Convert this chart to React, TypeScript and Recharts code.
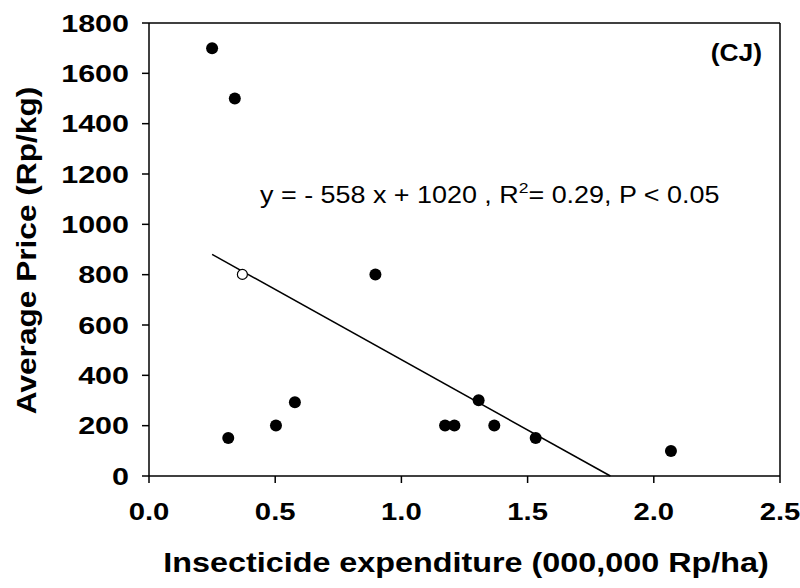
import React from "react";
import {
  ScatterChart,
  Scatter,
  XAxis,
  YAxis,
  ReferenceLine,
  ReferenceDot,
} from "recharts";

const filledX = [0.25, 0.34, 0.314, 0.503, 0.578, 0.897, 1.173, 1.21, 1.306, 1.368, 1.532, 2.068];
const filledY = [1700, 1500, 151, 201, 293, 801, 201, 201, 301, 201, 151, 99];
const openX = [0.37];
const openY = [801];
const xTicks = [0, 0.5, 1.0, 1.5, 2.0, 2.5];
const yTicks = [0, 200, 400, 600, 800, 1000, 1200, 1400, 1600, 1800];
const slope = -558;
const intercept = 1020;
const fitStartX = 0.25;
const equationText = "y = - 558 x + 1020 , R";
const equationTail = "= 0.29, P < 0.05";
const panelLabel = "(CJ)";
const xLabel = "Insecticide expenditure (000,000 Rp/ha)";
const yLabel = "Average Price (Rp/kg)";

const filled = filledX.map((x, i) => ({ x, y: filledY[i] }));
const open = openX.map((x, i) => ({ x, y: openY[i] }));
const fitEndX = -intercept / slope;
const fitSegment = [
  { x: fitStartX, y: slope * fitStartX + intercept },
  { x: fitEndX, y: 0 },
];

const FONT = "'Liberation Sans', Arial, sans-serif";

const FilledDot = (props: any) => (
  <circle cx={props.cx} cy={props.cy} r={6} fill="#000" />
);
const OpenDot = (props: any) => (
  <circle cx={props.cx} cy={props.cy} r={5} fill="#fff" stroke="#000" strokeWidth={1.2} />
);

const XTick = (props: any) => {
  const { x, y, payload } = props;
  return (
    <text
      transform={`translate(${x},${y}) scale(1.22,1)`}
      textAnchor="middle"
      dy="0.71em"
      fontFamily={FONT}
      fontSize={24}
      fontWeight="bold"
      fill="#000"
    >
      {Number(payload.value).toFixed(1)}
    </text>
  );
};

const YTick = (props: any) => {
  const { x, y, payload } = props;
  return (
    <text
      transform={`translate(${x},${y}) scale(1.27,1)`}
      textAnchor="end"
      dy="0.355em"
      fontFamily={FONT}
      fontSize={24}
      fontWeight="bold"
      fill="#000"
    >
      {payload.value}
    </text>
  );
};

const XTitle = (props: any) => {
  const vb = props.viewBox;
  return (
    <text
      transform={`translate(${vb.x + vb.width / 2 + 1.5},${vb.y + 96}) scale(1.155,1)`}
      textAnchor="middle"
      fontFamily={FONT}
      fontSize={28}
      fontWeight="bold"
      fill="#000"
    >
      {xLabel}
    </text>
  );
};

const YTitle = (props: any) => {
  const vb = props.viewBox;
  return (
    <text
      transform={`translate(36,${vb.y + vb.height / 2 + 1}) rotate(-90) scale(1.13,1)`}
      textAnchor="middle"
      fontFamily={FONT}
      fontSize={28}
      fontWeight="bold"
      fill="#000"
    >
      {yLabel}
    </text>
  );
};

export default function App() {
  return (
    <div style={{ position: "absolute", left: 0, top: 0, width: 800, height: 588, background: "#fff" }}>
      <ScatterChart
        width={800}
        height={588}
        margin={{ top: 23, right: 20, left: 0, bottom: 0 }}
      >
        <XAxis
          type="number"
          dataKey="x"
          domain={[0, 2.5]}
          ticks={xTicks}
          height={112}
          tickSize={7}
          tickMargin={20}
          axisLine={{ stroke: "#000", strokeWidth: 1.5 }}
          tickLine={{ stroke: "#000", strokeWidth: 1.5 }}
          tick={<XTick />}
          allowDataOverflow
          label={XTitle}
        />
        <YAxis
          type="number"
          dataKey="y"
          domain={[0, 1800]}
          ticks={yTicks}
          width={149}
          tickSize={7}
          tickMargin={13}
          axisLine={{ stroke: "#000", strokeWidth: 1.5 }}
          tickLine={{ stroke: "#000", strokeWidth: 1.5 }}
          tick={<YTick />}
          allowDataOverflow
          label={YTitle}
        />
        <ReferenceLine y={1800} stroke="#000" strokeWidth={1.5} />
        <ReferenceLine x={2.5} stroke="#000" strokeWidth={1.5} />
        <ReferenceLine segment={fitSegment} stroke="#000" strokeWidth={1.5} />
        <Scatter data={filled} shape={FilledDot} isAnimationActive={false} />
        <Scatter data={open} shape={OpenDot} isAnimationActive={false} />
        <ReferenceDot
          x={0.44}
          y={1083}
          r={0}
          stroke="none"
          fill="none"
          label={(p: any) => (
            <text
              transform={`translate(${p.viewBox.x},${p.viewBox.y}) scale(1.17,1)`}
              fontFamily={FONT}
              fontSize={23}
              fill="#000"
              textAnchor="start"
            >
              {equationText}
              <tspan fontSize={15} dy={-10}>2</tspan>
              <tspan dy={10}>{equationTail}</tspan>
            </text>
          )}
        />
        <ReferenceDot
          x={2.429}
          y={1650}
          r={0}
          stroke="none"
          fill="none"
          label={(p: any) => (
            <text
              transform={`translate(${p.viewBox.x},${p.viewBox.y}) scale(1.1,1)`}
              fontFamily={FONT}
              fontSize={24}
              fontWeight="bold"
              fill="#000"
              textAnchor="end"
            >
              {panelLabel}
            </text>
          )}
        />
      </ScatterChart>
    </div>
  );
}
